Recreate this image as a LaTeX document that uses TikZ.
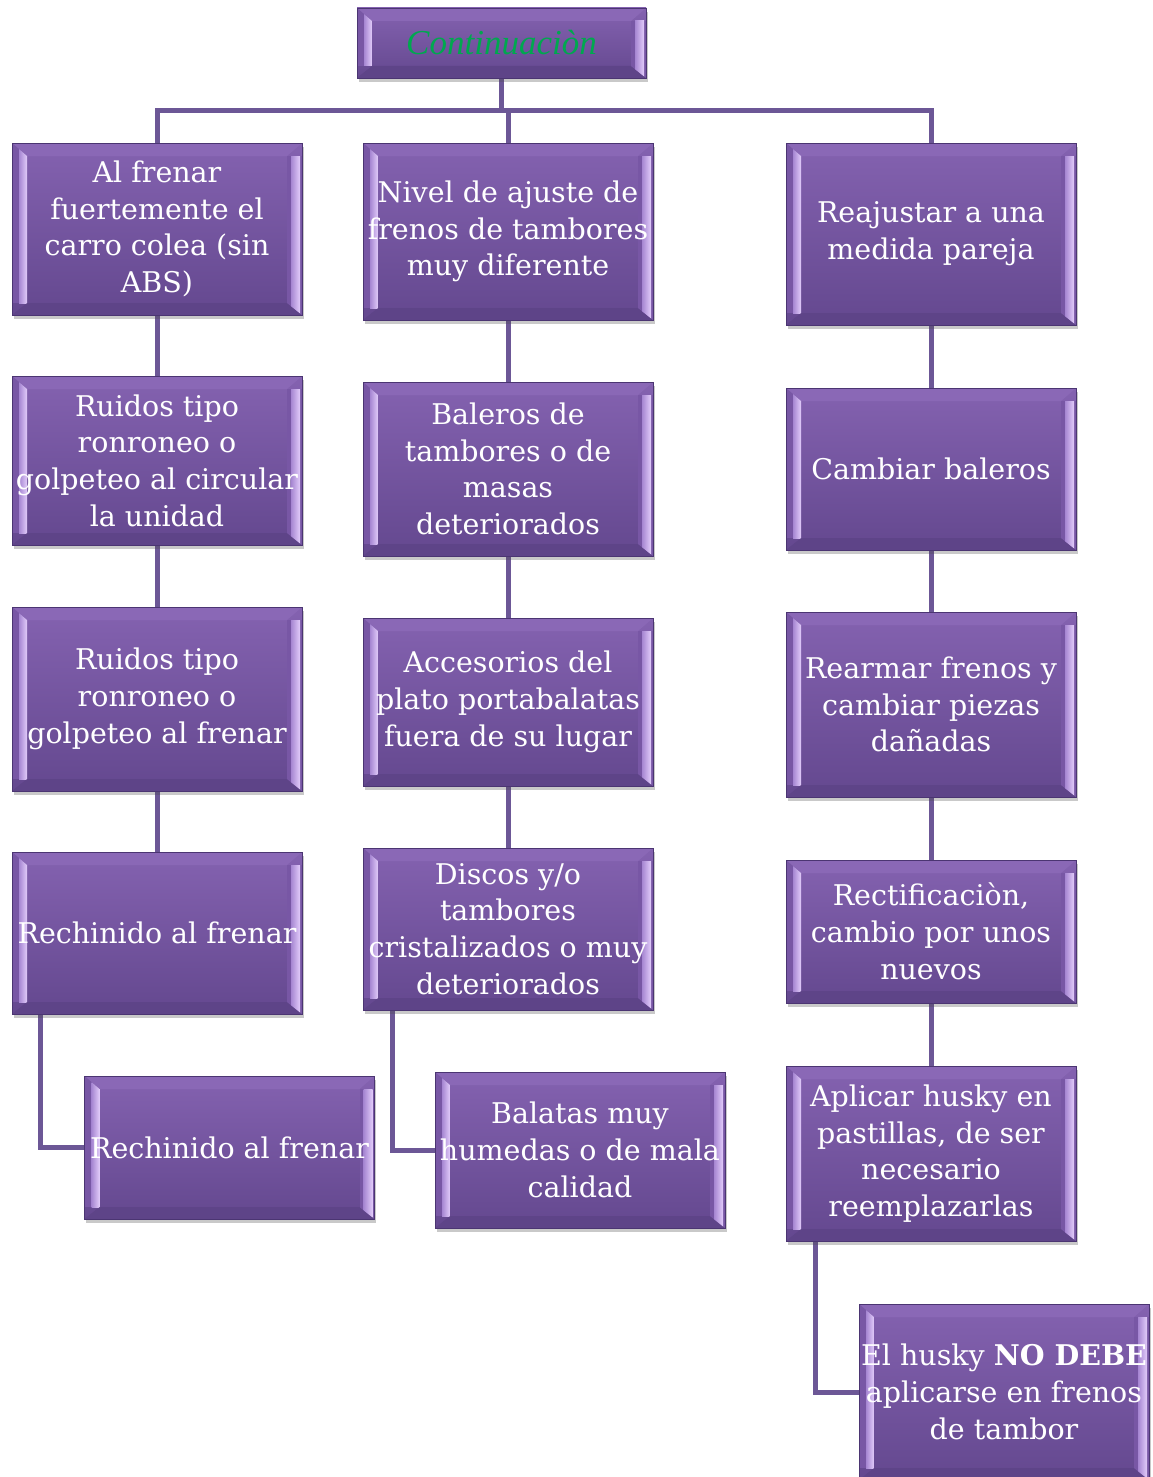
\documentclass[tikz,border=0pt]{standalone}
\usepackage{fontspec}
\setmainfont{DejaVu Serif}
\newfontfamily\titlefont{Liberation Serif}
\usetikzlibrary{calc,shadows}
\pgfdeclarelayer{background}
\pgfsetlayers{background,main}

\definecolor{faceTop}{HTML}{8462B0}
\definecolor{faceBot}{HTML}{64488F}
\definecolor{bevTop}{HTML}{8A68B6}
\definecolor{bevBot}{HTML}{5E4488}
\definecolor{bevSide}{HTML}{7857A5}
\definecolor{bevIn}{HTML}{A686D2}
\definecolor{bevHi}{HTML}{E2CCFA}
\definecolor{edgec}{HTML}{4B3572}
\definecolor{linkc}{HTML}{6C5796}
\definecolor{titlegreen}{HTML}{00A84F}

\tikzset{
  x=1pt, y=-1pt,
  conn/.style={draw=linkc, line width=5pt},
  bevelbox/.style={
    draw=edgec, line width=0.8pt, inner sep=0pt,
    minimum width=290pt,
    drop shadow={shadow xshift=1.5pt, shadow yshift=-4pt, opacity=0.3, fill=black!70},
    path picture={
      \path (path picture bounding box.north west) coordinate (pNW)
            (path picture bounding box.south east) coordinate (pSE);
      \path (pSE |- pNW) coordinate (pNE) (pNW |- pSE) coordinate (pSW);
      \path ($(pNW)+(15,13)$) coordinate (iNW) ($(pSE)+(-15,-12)$) coordinate (iSE);
      \path (iSE |- iNW) coordinate (iNE) (iNW |- iSE) coordinate (iSW);
      % face
      \shade[top color=faceTop, bottom color=faceBot] (pNW) rectangle (pSE);
      % top and bottom bevels
      \fill[bevTop] (pNW) -- (pNE) -- (iNE) -- (iNW) -- cycle;
      \fill[bevBot] (pSW) -- (pSE) -- (iSE) -- (iSW) -- cycle;
      % left bevel: a light strip along its inner edge
      \begin{scope}
        \clip (pNW) -- (iNW) -- (iSW) -- (pSW) -- cycle;
        \fill[bevSide] (pNW) rectangle (iSW);
        \shade[left color=bevIn, right color=bevHi] ($(pNW)+(7,0)$) rectangle (iSW);
      \end{scope}
      % right bevel: a light strip along its outer edge
      \begin{scope}
        \clip (iNE) -- (pNE) -- (pSE) -- (iSE) -- cycle;
        \fill[bevSide] (iNE) rectangle (pSE);
        \shade[left color=bevIn, right color=bevHi] ($(iNE)+(4,0)$) rectangle ($(pSE)+(-2,0)$);
      \end{scope}
    }
  },
  btext/.style={text=white, align=center, font=\fontsize{28.5}{36.7}\selectfont},
  ttext/.style={text=titlegreen, font=\titlefont\itshape\fontsize{35}{40}\selectfont}
}

\begin{document}
\begin{tikzpicture}
\useasboundingbox (0,0) rectangle (1152,1477);

% title
\node[bevelbox, minimum width=289pt, minimum height=70pt] (top) at (501.5,43) {};
\node[ttext] (topt) at (top.center) {Continuaciòn};

% left column
\node[bevelbox, minimum height=172pt] (l1) at (157,229) {};
\node[bevelbox, minimum height=169pt] (l2) at (157,460.5) {};
\node[bevelbox, minimum height=184pt] (l3) at (157,699) {};
\node[bevelbox, minimum height=162pt] (l4) at (157,933) {};
\node[bevelbox, minimum height=143pt] (l5) at (229.5,1147.5) {};

% middle column
\node[bevelbox, minimum height=177pt] (m1) at (508,231.5) {};
\node[bevelbox, minimum height=174pt] (m2) at (508,469) {};
\node[bevelbox, minimum height=168pt] (m3) at (508,702) {};
\node[bevelbox, minimum height=162pt] (m4) at (508,929) {};
\node[bevelbox, minimum height=156pt] (m5) at (580,1150) {};

% right column
\node[bevelbox, minimum height=182pt] (r1) at (931,234) {};
\node[bevelbox, minimum height=162pt] (r2) at (931,469) {};
\node[bevelbox, minimum height=185pt] (r3) at (931,704.5) {};
\node[bevelbox, minimum height=143pt] (r4) at (931,931.5) {};
\node[bevelbox, minimum height=175pt] (r5) at (931,1153.5) {};
\node[bevelbox, minimum height=176pt] (r6) at (1004,1392) {};

% texts
\node[btext] (l1t) at (l1.center) {Al frenar\\fuertemente el\\carro colea (sin\\ABS)};
\node[btext] (l2t) at (l2.center) {Ruidos tipo\\ronroneo o\\golpeteo al circular\\la unidad};
\node[btext] (l3t) at (l3.center) {Ruidos tipo\\ronroneo o\\golpeteo al frenar};
\node[btext] (l4t) at (l4.center) {Rechinido al frenar};
\node[btext] (l5t) at (l5.center) {Rechinido al frenar};
\node[btext] (m1t) at (m1.center) {Nivel de ajuste de\\frenos de tambores\\muy diferente};
\node[btext] (m2t) at (m2.center) {Baleros de\\tambores o de\\masas\\deteriorados};
\node[btext] (m3t) at (m3.center) {Accesorios del\\plato portabalatas\\fuera de su lugar};
\node[btext] (m4t) at (m4.center) {Discos y/o\\tambores\\cristalizados o muy\\deteriorados};
\node[btext] (m5t) at (m5.center) {Balatas muy\\humedas o de mala\\calidad};
\node[btext] (r1t) at (r1.center) {Reajustar a una\\medida pareja};
\node[btext] (r2t) at (r2.center) {Cambiar baleros};
\node[btext] (r3t) at (r3.center) {Rearmar frenos y\\cambiar piezas\\dañadas};
\node[btext] (r4t) at (r4.center) {Rectificaciòn,\\cambio por unos\\nuevos};
\node[btext] (r5t) at (r5.center) {Aplicar husky en\\pastillas, de ser\\necesario\\reemplazarlas};
\node[btext] (r6t) at (r6.center) {El husky \textbf{NO DEBE}\\aplicarse en frenos\\de tambor};

% connectors
\coordinate (bar) at (501.5,111);
\begin{pgfonlayer}{background}
\draw[conn] (top.south) -- (bar);
\draw[conn] (l1.north) |- (bar);
\draw[conn] (m1.north) |- (bar);
\draw[conn] (r1.north) |- (bar);
\draw[conn] (l1.south) -- (l2.north);
\draw[conn] (l2.south) -- (l3.north);
\draw[conn] (l3.south) -- (l4.north);
\draw[conn] (m1.south) -- (m2.north);
\draw[conn] (m2.south) -- (m3.north);
\draw[conn] (m3.south) -- (m4.north);
\draw[conn] (r1.south) -- (r2.north);
\draw[conn] (r2.south) -- (r3.north);
\draw[conn] (r3.south) -- (r4.north);
\draw[conn] (r4.south) -- (r5.north);
\draw[conn] ([xshift=-117pt]l4.south) |- (l5.west);
\draw[conn] ([xshift=-116pt]m4.south) |- (m5.west);
\draw[conn] ([xshift=-116pt]r5.south) |- (r6.west);
\end{pgfonlayer}
\end{tikzpicture}
\end{document}
